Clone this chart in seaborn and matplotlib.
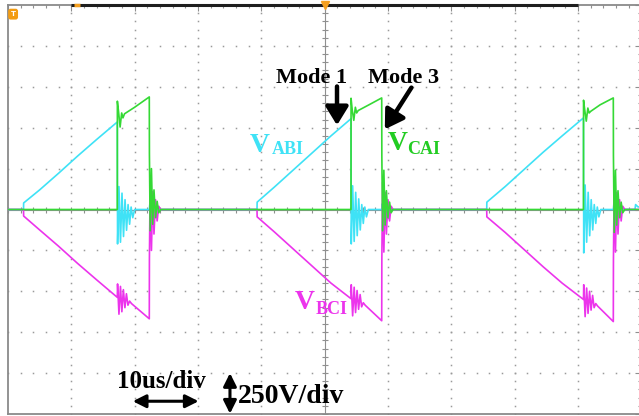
import numpy as np
import pandas as pd
import matplotlib
matplotlib.use("Agg")
import matplotlib.pyplot as plt
from matplotlib.ticker import MultipleLocator
import seaborn as sns

# ---------------- data (time in us, voltage in V; 10 us/div, 250 V/div) ----------------
t_ab = [0, 2.45, 2.47, 5.0, 8.0, 11.0, 14.0, 17.26,
        17.30, 17.52, 17.76, 18.0, 18.24, 18.48, 18.72, 18.96, 19.2, 19.44, 19.7, 20.0,
        22.31, 22.40, 22.6, 22.85, 23.1, 23.4,
        39.32, 39.34, 42.0, 45.0, 48.0, 51.0, 54.16,
        54.20, 54.42, 54.66, 54.90, 55.14, 55.38, 55.62, 55.86, 56.1, 56.34, 56.6, 56.9,
        59.01, 59.10, 59.3, 59.55, 59.8, 60.1,
        75.59, 75.61, 78.5, 81.5, 84.5, 87.5, 90.87,
        90.91, 91.13, 91.37, 91.61, 91.85, 92.09, 92.33, 92.57, 92.81, 93.05, 93.3, 93.6,
        95.58, 95.67, 95.87, 96.12, 96.37, 96.7, 99.0, 99.1, 99.5, 100]
v_ab = [0, 0, 40, 120, 222, 327, 428, 535,
        -210, 140, -200, 100, -165, 60, -127, 30, -90, 15, -50, 0,
        0, 35, -30, 20, -15, 0,
        0, 45, 135, 240, 345, 450, 555,
        -210, 145, -195, 105, -160, 65, -125, 30, -85, 15, -45, 0,
        0, 35, -30, 20, -15, 0,
        0, 45, 140, 245, 350, 450, 560,
        -265, 150, -200, 105, -160, 60, -125, 30, -85, 15, -45, 0,
        0, 35, -30, 20, -15, 0, 0, 30, 15, 20]

t_ca = [0, 17.26, 17.27, 17.45, 17.70, 17.95, 18.15, 18.40, 20.0, 22.31,
        22.33, 22.45, 22.65, 22.85, 23.05, 23.3, 23.55, 23.8, 24.1,
        54.16, 54.17, 54.35, 54.60, 54.85, 55.05, 55.30, 57.0, 59.01,
        59.03, 59.15, 59.35, 59.55, 59.75, 60.0, 60.25, 60.5, 60.8,
        90.87, 90.88, 91.06, 91.31, 91.56, 91.76, 92.01, 93.5, 95.58,
        95.60, 95.72, 95.92, 96.12, 96.32, 96.57, 96.82, 97.07, 97.4, 100]
v_ca = [0, 0, 662, 600, 504, 590, 560, 585, 625, 688,
        340, -130, 250, -90, 120, -50, 50, -20, 0,
        0, 680, 610, 545, 625, 590, 605, 640, 682,
        330, -130, 240, -95, 115, -50, 45, -20, 0,
        0, 668, 610, 540, 620, 590, 600, 640, 682,
        330, -140, 240, -95, 115, -50, 45, -20, 0, 0]

t_bc = [0, 2.45, 2.47, 5.0, 8.0, 11.0, 14.0, 17.26,
        17.30, 17.52, 17.76, 17.98, 18.22, 18.46, 18.70, 18.94, 19.2, 19.5, 22.31,
        22.33, 22.45, 22.65, 22.85, 23.05, 23.3, 23.55, 23.8, 24.1,
        39.32, 39.34, 42.0, 45.0, 48.0, 51.0, 54.16,
        54.20, 54.42, 54.66, 54.88, 55.12, 55.36, 55.60, 55.84, 56.1, 56.4, 59.01,
        59.03, 59.15, 59.35, 59.55, 59.75, 60.0, 60.25, 60.5, 60.8,
        75.59, 75.61, 78.5, 81.5, 84.5, 87.5, 90.87,
        90.91, 91.13, 91.37, 91.59, 91.83, 92.07, 92.31, 92.55, 92.81, 93.1, 95.58,
        95.60, 95.72, 95.92, 96.12, 96.32, 96.57, 96.82, 97.07, 97.4, 100]
v_bc = [0, 0, -40, -125, -225, -330, -430, -537,
        -455, -640, -470, -625, -490, -600, -515, -585, -560, -575, -668,
        -300, 170, -250, 110, -150, 60, -70, 20, 0,
        0, -45, -135, -240, -345, -450, -545,
        -460, -650, -475, -630, -495, -610, -520, -595, -570, -585, -680,
        -310, 165, -260, 105, -150, 60, -70, 20, 0,
        0, -45, -140, -245, -350, -450, -550,
        -460, -655, -480, -635, -500, -615, -525, -600, -575, -590, -685,
        -310, 160, -260, 105, -150, 60, -70, 20, 0, 0]

CYAN = "#3fe2f6"
GREEN = "#35d935"
MAGENTA = "#ec34ec"

# ---------------- figure ----------------
sns.set_style("white")
plt.rcParams["font.family"] = ["Liberation Serif", "DejaVu Serif"]

fig = plt.figure(figsize=(6.39, 4.16), dpi=100)
ax = fig.add_axes([8 / 639, 2 / 416, 633.3 / 639, 409 / 416])

ax.set_xlim(0, 100)
ax.set_ylim(-1250, 1250)

# graticule dots
ys_minor = np.arange(-1250, 1251, 50)
xs_minor = np.arange(0, 101, 2)
for xg in range(10, 100, 10):
    if xg == 50:
        continue
    ax.plot(np.full(len(ys_minor), xg), ys_minor, ls="none", marker="s", ms=1.1,
            mew=0, color="#9a9a9a", zorder=0)
for yg in range(-1000, 1001, 250):
    if yg == 0:
        continue
    ax.plot(xs_minor, np.full(len(xs_minor), yg), ls="none", marker="s", ms=1.1,
            mew=0, color="#9a9a9a", zorder=0)
# centre crosshair with ticks
ax.axvline(50, color="#8f8f8f", lw=0.8, zorder=0)
ax.axhline(0, color="#8f8f8f", lw=0.8, zorder=0)
ax.plot(np.full(len(ys_minor), 50), ys_minor, ls="none", marker="_", ms=5,
        mew=0.8, color="#8f8f8f", zorder=0)
ax.plot(xs_minor, np.zeros(len(xs_minor)), ls="none", marker="|", ms=5,
        mew=0.8, color="#8f8f8f", zorder=0)

# traces
df_ab = pd.DataFrame({"t": t_ab, "v": v_ab})
df_ca = pd.DataFrame({"t": t_ca, "v": v_ca})
df_bc = pd.DataFrame({"t": t_bc, "v": v_bc})
sns.lineplot(data=df_ab, x="t", y="v", color=CYAN, lw=1.2, sort=False,
             estimator=None, ax=ax, zorder=3)
sns.lineplot(data=df_bc, x="t", y="v", color=MAGENTA, lw=1.2, sort=False,
             estimator=None, ax=ax, zorder=4)
sns.lineplot(data=df_ca, x="t", y="v", color=GREEN, lw=1.2, sort=False,
             estimator=None, ax=ax, zorder=5)

# frame / ticks
ax.set_xticks(np.arange(0, 101, 10))
ax.set_yticks(np.arange(-1250, 1251, 250))
ax.xaxis.set_minor_locator(MultipleLocator(2))
ax.yaxis.set_minor_locator(MultipleLocator(50))
ax.tick_params(which="both", direction="in", top=True, right=True,
               labelbottom=False, labelleft=False, color="#8f8f8f", width=0.8)
ax.tick_params(which="major", length=4)
ax.tick_params(which="minor", length=2.5)
ax.set_xlabel("")
ax.set_ylabel("")
for s in ax.spines.values():
    s.set_color("#8a8a8a")
    s.set_linewidth(1.3)

# scope decorations
ax.plot([10, 90], [1250, 1250], color="#1e1e1e", lw=2.2, clip_on=False,
        solid_capstyle="butt", zorder=6)
ax.plot([10.4, 11.3], [1250, 1250], color="#f5a020", lw=2.5, clip_on=False,
        solid_capstyle="butt", zorder=7)
ax.plot([50], [1250], marker="v", color="#f5a020", ms=6, clip_on=False, zorder=7)
fig.text(0.0205, 0.966, "T", color="white", fontsize=5, fontweight="bold",
         ha="center", va="center", family="DejaVu Sans",
         bbox=dict(boxstyle="round,pad=0.35", fc="#f39c12", ec="none"))

# labels
bold = dict(fontweight="bold", ha="left", va="baseline")
ax.text(38.2, 349, "V", color=CYAN, fontsize=20, **bold)
ax.text(41.7, 337, "ABI", color=CYAN, fontsize=13, **bold)
ax.text(60.0, 361, "V", color="#22cc22", fontsize=20, **bold)
ax.text(63.0, 337, "CAI", color="#22cc22", fontsize=13, **bold)
ax.text(45.3, -607, "V", color=MAGENTA, fontsize=20, **bold)
ax.text(48.5, -637, "BCI", color=MAGENTA, fontsize=13, **bold)

ax.text(48.0, 803, "Mode 1", color="black", fontsize=16, fontweight="bold",
        ha="center", va="center")
ax.text(62.4, 803, "Mode 3", color="black", fontsize=16, fontweight="bold",
        ha="center", va="center")
arrow_kw = dict(arrowstyle="-|>,head_length=0.65,head_width=0.4", lw=3.2,
                color="black", mutation_scale=17, shrinkA=0, shrinkB=0)
ax.annotate("", xy=(51.95, 515), xytext=(51.95, 752), arrowprops=arrow_kw)
ax.annotate("", xy=(59.5, 490), xytext=(63.7, 745), arrowprops=arrow_kw)

ax.text(17.2, -1091, "10us/div", color="black", fontsize=18, **bold)
dbl_kw = dict(arrowstyle="<|-|>,head_length=0.6,head_width=0.3", lw=2.2,
              color="black", mutation_scale=13, shrinkA=0, shrinkB=0)
ax.annotate("", xy=(19.7, -1172), xytext=(30.1, -1172), arrowprops=dbl_kw)
ax.annotate("", xy=(35.05, -1000), xytext=(35.05, -1248), arrowprops=dbl_kw,
            annotation_clip=False)
ax.text(36.3, -1183, "250V/div", color="black", fontsize=20, **bold)

fig.savefig("out.png", dpi=100)
